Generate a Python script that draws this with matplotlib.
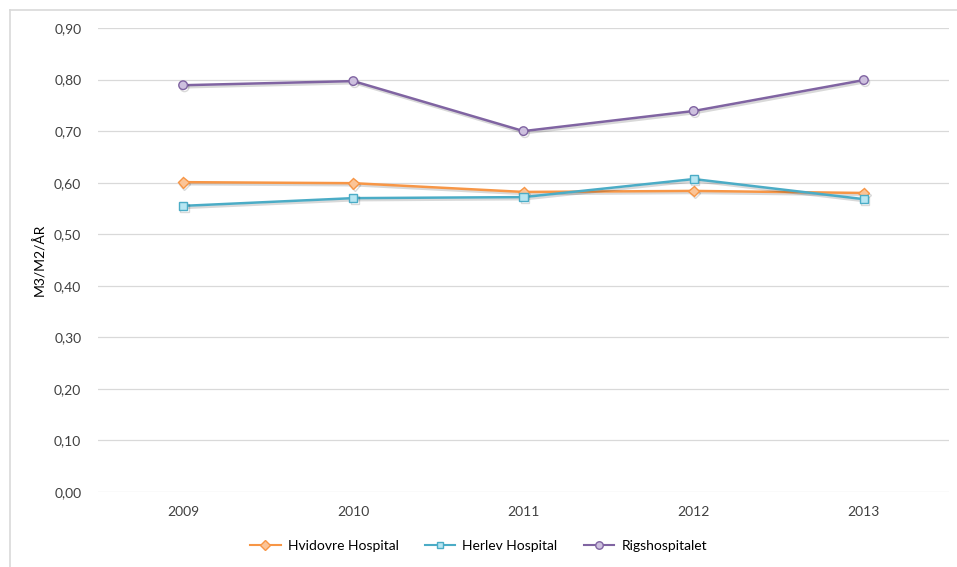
import matplotlib
matplotlib.use("Agg")
import matplotlib.pyplot as plt
import matplotlib.patheffects as pe
from matplotlib.lines import Line2D

years = ["2009", "2010", "2011", "2012", "2013"]
hvidovre = [0.601, 0.599, 0.582, 0.584, 0.580]
herlev = [0.555, 0.570, 0.572, 0.607, 0.568]
rigs = [0.789, 0.797, 0.700, 0.739, 0.799]
yticks = [0.0, 0.1, 0.2, 0.3, 0.4, 0.5, 0.6, 0.7, 0.8, 0.9]
ylabel = "M3/M2/ÅR"

plt.rcParams['font.family'] = ['Lato', 'DejaVu Sans']

W, H = 957, 567
fig = plt.figure(figsize=(W / 100, H / 100), dpi=100)
ax = fig.add_axes([98 / W, 1 - 492 / H, (949 - 98) / W, (492 - 28) / H])

x = list(range(len(years)))
series = [
    ("Hvidovre Hospital", hvidovre, "#F79646", "#FBC497", "D", 5.5),
    ("Herlev Hospital", herlev, "#4BACC6", "#B7E6F2", "s", 5.8),
    ("Rigshospitalet", rigs, "#8064A2", "#CDC0DE", "o", 6.2),
]
shadow = [pe.SimpleLineShadow(offset=(1, -1.5), shadow_color="#000000", alpha=0.15), pe.Normal()]
handles = []
for name, vals, col, face, mk, ms in series:
    ax.plot(x, vals, color=col, lw=1.8, marker=mk, markersize=ms,
            markerfacecolor=face, markeredgecolor=col, markeredgewidth=1.0,
            path_effects=shadow, zorder=3)
    handles.append(Line2D([0], [0], color=col, lw=1.5, marker=mk, markersize=ms - 0.8,
                          markerfacecolor=face, markeredgecolor=col, markeredgewidth=1.0))

ax.set_xlim(-0.5, len(years) - 0.5)
ax.set_ylim(0, 0.9)
ax.set_yticks(yticks)
ax.set_yticklabels([f"{v:.2f}".replace(".", ",") for v in yticks])
ax.set_xticks(x)
ax.set_xticklabels(years)
ax.grid(axis="y", color="#D9D9D9", lw=0.9)
ax.set_axisbelow(True)
for s in ax.spines.values():
    s.set_visible(False)
ax.tick_params(axis="both", length=0, labelsize=10, colors="#404040")
ax.tick_params(axis="y", pad=12)
ax.tick_params(axis="x", pad=10)
ax.set_ylabel(ylabel, fontsize=10, color="#000000", labelpad=6)

fig.legend(handles, [s[0] for s in series], loc="center", bbox_to_anchor=(0.5, 1 - 546 / H),
           ncol=3, frameon=False, fontsize=10, handlelength=2.2, columnspacing=1.9,
           handletextpad=0.5)

# outer chart frame (left and top edges)
fig.add_artist(Line2D([10 / W, 10 / W], [0, 1 - 10 / H], color="#D9D9D9", lw=1.2))
fig.add_artist(Line2D([10 / W, 1], [1 - 10 / H, 1 - 10 / H], color="#D9D9D9", lw=1.2))

fig.savefig("out.png", dpi=100, facecolor="white")
